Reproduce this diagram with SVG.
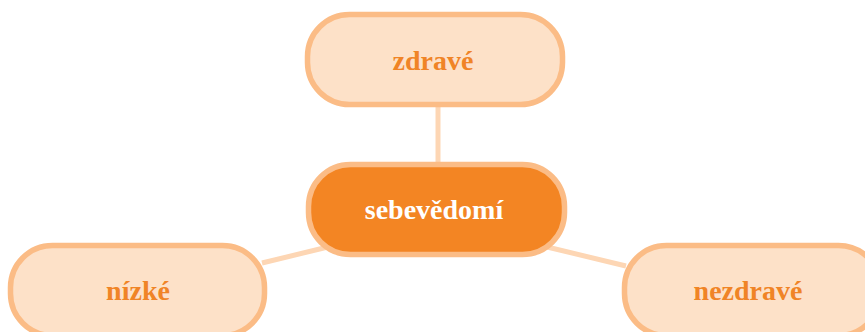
<svg xmlns="http://www.w3.org/2000/svg" width="865" height="332" viewBox="0 0 865 332">
<style>
.node rect{stroke:#FBBC86;stroke-width:5.5}
.light rect{fill:#FDE1C8}
.dark rect{fill:#F38523}
text{font-family:"Liberation Serif","DejaVu Serif",serif;font-weight:bold;font-size:28px;text-anchor:middle}
.light text{fill:#F08426}
.dark text{fill:#FFFFFF}
.conn line{stroke:#FDD6B4;stroke-width:5}
</style>
<rect width="865" height="332" fill="#FFFFFF"/>
<g id="connectors" class="conn">
<line x1="438" y1="106" x2="438" y2="164"/>
<line x1="262" y1="263" x2="332" y2="246"/>
<line x1="543" y1="246" x2="626" y2="266"/>
</g>
<g id="zdrave" class="node light">
<rect x="307.5" y="14.5" width="255" height="90" rx="42"/>
<text x="433" y="70">zdravé</text>
</g>
<g id="sebevedomi" class="node dark">
<rect x="308.5" y="164.5" width="256" height="90" rx="42"/>
<text x="434" y="219">sebevědomí</text>
</g>
<g id="nizke" class="node light">
<rect x="10.5" y="245.5" width="254" height="90" rx="42"/>
<text x="138" y="300">nízké</text>
</g>
<g id="nezdrave" class="node light">
<rect x="624.5" y="245.5" width="256" height="90" rx="42"/>
<text x="748" y="300">nezdravé</text>
</g>
</svg>
